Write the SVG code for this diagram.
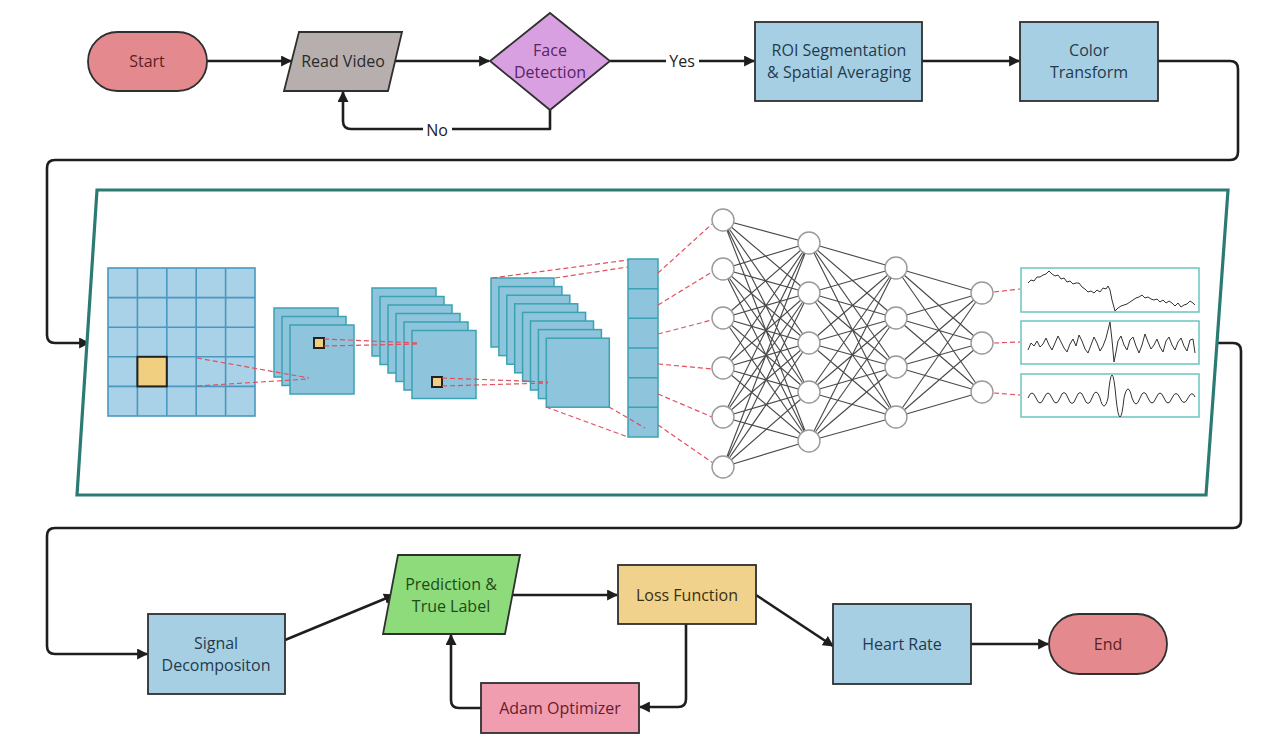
<svg xmlns="http://www.w3.org/2000/svg" width="1274" height="751" viewBox="0 0 1274 751">
<defs>
<marker id="ah" viewBox="0 0 10 10" refX="9" refY="5" markerWidth="11" markerHeight="11" markerUnits="userSpaceOnUse" orient="auto">
<path d="M0 0 L10 5 L0 10 Z" fill="#1e1e1e"/>
</marker>
<style>
.lbl{font-family:"Open Sans","Noto Sans","Liberation Sans",sans-serif;font-size:16px;text-anchor:middle;dominant-baseline:central}
.node{stroke:#2f2f2f;stroke-width:1.8}
.conn{fill:none;stroke:#1e1e1e;stroke-width:2.6;stroke-linejoin:round}
.grid{fill:#a9d1e7;stroke:#4a98bf;stroke-width:1.6}
.fm{fill:#8fc4dd;stroke:#3aa3b3;stroke-width:1.5}
.yel{fill:#f0d080;stroke:#222;stroke-width:2}
.dash{fill:none;stroke:#e0505e;stroke-width:1.2;stroke-dasharray:5 3}
.nn{fill:none;stroke:#4a4a4a;stroke-width:1.15}
.neu{fill:#fff;stroke:#9a9a9a;stroke-width:1.4}
.sig{fill:#fff;stroke:#6cc3c0;stroke-width:1.5}
.wave{fill:none;stroke:#333;stroke-width:1}
</style>
</defs>
<rect width="1274" height="751" fill="#fff"/>

<g id="connectors">
<path class="conn" d="M207 61 H291" marker-end="url(#ah)"/>
<path class="conn" d="M395 61 H489" marker-end="url(#ah)"/>
<path class="conn" d="M550 110 V129 H351 Q343 129 343 121 V92" marker-end="url(#ah)"/>
<path class="conn" d="M610 61 H754" marker-end="url(#ah)"/>
<path class="conn" d="M922 61 H1019" marker-end="url(#ah)"/>
<path class="conn" d="M1158 61 H1230 Q1238 61 1238 69 V152 Q1238 160 1230 160 H55 Q47 160 47 168 V335 Q47 343 55 343 H89" marker-end="url(#ah)"/>
<path class="conn" d="M1217 343 H1233 Q1241 343 1241 351 V520 Q1241 528 1233 528 H55 Q47 528 47 536 V646 Q47 654 55 654 H147" marker-end="url(#ah)"/>
<path class="conn" d="M285 640 L394 595" marker-end="url(#ah)"/>
<path class="conn" d="M512 595 H617" marker-end="url(#ah)"/>
<path class="conn" d="M756 595 L833 646" marker-end="url(#ah)"/>
<path class="conn" d="M970 644 H1048" marker-end="url(#ah)"/>
<path class="conn" d="M686 624 V699 Q686 707 678 707 H640" marker-end="url(#ah)"/>
<path class="conn" d="M481 708 H459 Q451 708 451 700 V635" marker-end="url(#ah)"/>
<rect x="666" y="50" width="33" height="22" fill="#fff"/>
<text class="lbl" x="682" y="61" fill="#222">Yes</text>
<rect x="423" y="120" width="29" height="20" fill="#fff"/>
<text class="lbl" x="437" y="130" fill="#222">No</text>
</g>

<g id="start">
<rect class="node" x="88" y="32" width="119" height="59" rx="29.5" fill="#e48a8f"/>
<text class="lbl" x="147" y="61" fill="#5b1f1f">Start</text>
</g>
<g id="read-video">
<polygon class="node" points="299,32 402,32 388,91 284,91" fill="#b7afad"/>
<text class="lbl" x="343" y="61" fill="#2a2a2a">Read Video</text>
</g>
<g id="face-detection">
<polygon class="node" points="550,13 610,61 550,110 490,61" fill="#d8a0e0"/>
<text class="lbl" x="550" y="50" fill="#5a2366">Face</text>
<text class="lbl" x="550" y="72" fill="#5a2366">Detection</text>
</g>
<g id="roi">
<rect class="node" x="755" y="22" width="167" height="79" fill="#a7cfe4"/>
<text class="lbl" x="839" y="50" fill="#1f3b4d">ROI Segmentation</text>
<text class="lbl" x="839" y="72" fill="#1f3b4d">&amp; Spatial Averaging</text>
</g>
<g id="color-transform">
<rect class="node" x="1020" y="22" width="138" height="79" fill="#a7cfe4"/>
<text class="lbl" x="1089" y="50" fill="#1f3b4d">Color</text>
<text class="lbl" x="1089" y="72" fill="#1f3b4d">Transform</text>
</g>

<g id="model-panel">
<polygon points="97,190 1228,190 1206,495 77,495" fill="#fff" stroke="#2b7a74" stroke-width="3.2"/>
<g id="input-grid">
<rect class="grid" x="108" y="268" width="147" height="148"/>
<path class="grid" fill="none" d="M137.4 268V416M166.8 268V416M196.2 268V416M225.6 268V416M108 297.6H255M108 327.2H255M108 356.8H255M108 386.4H255"/>
<rect class="yel" x="137.4" y="356.8" width="29.4" height="29.6"/>
</g>
<g id="feature-maps-1">
<rect class="fm" x="274" y="308" width="64" height="69"/>
<rect class="fm" x="282" y="316.5" width="64" height="69"/>
<rect class="fm" x="290" y="325" width="64" height="69"/>
<rect class="yel" x="314" y="338" width="10" height="10" stroke-width="1.6"/>
</g>
<path class="dash" d="M197 358 L309 378 M197 386 L309 379"/>
<g id="feature-maps-2">
<rect class="fm" x="372" y="288" width="64" height="68"/>
<rect class="fm" x="380" y="296.5" width="64" height="68"/>
<rect class="fm" x="388" y="305" width="64" height="68"/>
<rect class="fm" x="396" y="313.5" width="64" height="68"/>
<rect class="fm" x="404" y="322" width="64" height="68"/>
<rect class="fm" x="412" y="330.5" width="64" height="68"/>
<rect class="yel" x="432" y="377" width="10" height="10" stroke-width="1.6"/>
</g>
<path class="dash" d="M324 339 L418 343 M324 346 L418 344"/>
<g id="feature-maps-3">
<rect class="fm" x="491" y="278" width="63" height="69"/>
<rect class="fm" x="498.9" y="286.6" width="63" height="69"/>
<rect class="fm" x="506.8" y="295.2" width="63" height="69"/>
<rect class="fm" x="514.7" y="303.8" width="63" height="69"/>
<rect class="fm" x="522.6" y="312.4" width="63" height="69"/>
<rect class="fm" x="530.5" y="321" width="63" height="69"/>
<rect class="fm" x="538.4" y="329.6" width="63" height="69"/>
<rect class="fm" x="546.3" y="338.2" width="63" height="69"/>
</g>
<path class="dash" d="M442 378 L548 382 M442 386 L548 383"/>
<g id="flatten">
<rect class="fm" x="628" y="259" width="30" height="178"/>
<path class="fm" fill="none" d="M628 288.7H658M628 318.3H658M628 348H658M628 377.7H658M628 407.3H658"/>
</g>
<path class="dash" d="M492 278 L628 260 M555 278 L628 267 M546 407 L628 437 M609 407 L645 428"/>
<path class="dash" d="M658 273 L712 224 M658 305 L712 272 M658 334 L712 320 M658 364 L712 369 M658 394 L712 417 M658 425 L713 463"/>
<g id="dense-network">
<path class="nn" d="M723 220L809 243M723 220L809 293M723 220L809 343M723 220L809 392M723 220L809 441M723 269L809 243M723 269L809 293M723 269L809 343M723 269L809 392M723 269L809 441M723 318L809 243M723 318L809 293M723 318L809 343M723 318L809 392M723 318L809 441M723 368L809 243M723 368L809 293M723 368L809 343M723 368L809 392M723 368L809 441M723 417L809 243M723 417L809 293M723 417L809 343M723 417L809 392M723 417L809 441M723 467L809 243M723 467L809 293M723 467L809 343M723 467L809 392M723 467L809 441"/>
<path class="nn" d="M809 243L896 268M809 243L896 318M809 243L896 367M809 243L896 417M809 293L896 268M809 293L896 318M809 293L896 367M809 293L896 417M809 343L896 268M809 343L896 318M809 343L896 367M809 343L896 417M809 392L896 268M809 392L896 318M809 392L896 367M809 392L896 417M809 441L896 268M809 441L896 318M809 441L896 367M809 441L896 417"/>
<path class="nn" d="M896 268L982 293M896 268L982 343M896 268L982 392M896 318L982 293M896 318L982 343M896 318L982 392M896 367L982 293M896 367L982 343M896 367L982 392M896 417L982 293M896 417L982 343M896 417L982 392"/>
<circle class="neu" cx="723" cy="220" r="11"/><circle class="neu" cx="723" cy="269" r="11"/><circle class="neu" cx="723" cy="318" r="11"/><circle class="neu" cx="723" cy="368" r="11"/><circle class="neu" cx="723" cy="417" r="11"/><circle class="neu" cx="723" cy="467" r="11"/>
<circle class="neu" cx="809" cy="243" r="11"/><circle class="neu" cx="809" cy="293" r="11"/><circle class="neu" cx="809" cy="343" r="11"/><circle class="neu" cx="809" cy="392" r="11"/><circle class="neu" cx="809" cy="441" r="11"/>
<circle class="neu" cx="896" cy="268" r="11"/><circle class="neu" cx="896" cy="318" r="11"/><circle class="neu" cx="896" cy="367" r="11"/><circle class="neu" cx="896" cy="417" r="11"/>
<circle class="neu" cx="982" cy="293" r="11"/><circle class="neu" cx="982" cy="343" r="11"/><circle class="neu" cx="982" cy="392" r="11"/>
</g>
<path class="dash" d="M994 292 L1020 289 M994 343 L1020 342 M994 393 L1020 395"/>
<g id="signals">
<rect class="sig" x="1021" y="268" width="178" height="44"/>
<polyline class="wave" points="1028,283 1031,280 1034,281 1037,277 1040,277 1043,275 1046,274 1049,271 1052,274 1055,276 1058,275 1061,279 1064,278 1067,282 1070,281 1073,284 1076,283 1079,283 1082,287 1085,289 1088,292 1091,291 1094,293 1097,290 1100,292 1103,288 1106,289 1108,286 1110,290 1112,300 1115,311 1118,308 1121,306 1124,305 1127,304 1130,302 1133,300 1136,298 1139,297 1142,295 1145,298 1148,297 1151,299 1154,300 1157,299 1160,302 1163,300 1166,303 1169,301 1172,303 1175,306 1178,303 1181,307 1184,305 1187,304 1190,301 1193,303 1195,305"/>
<rect class="sig" x="1021" y="321" width="178" height="43"/>
<polyline class="wave" points="1028,350 1031,343 1034,346 1037,341 1040,347 1043,344 1046,338 1049,345 1052,350 1055,343 1058,336 1061,342 1064,348 1067,352 1070,344 1073,339 1076,346 1079,335 1082,341 1085,349 1088,353 1091,345 1094,337 1097,343 1100,351 1103,346 1106,338 1108,330 1110,322 1112,340 1114,362 1116,352 1118,341 1121,336 1124,345 1127,350 1130,340 1133,337 1136,346 1139,353 1142,345 1145,334 1148,342 1151,349 1154,345 1157,339 1160,347 1163,352 1166,341 1169,337 1172,345 1175,350 1178,342 1181,338 1184,346 1187,351 1190,340 1193,339 1195,353"/>
<rect class="sig" x="1021" y="374" width="178" height="43"/>
<path class="wave" stroke="#666" d="M1028 398 q4 -10 8 0 q4 10 8 0 q4 -10 8 0 q4 10 8 0 q4 -11 8 0 q4 11 8 0 q4 -11 8 0 q4 11 8 0 q4 -12 8 0 q4 16 8 0 q4 -46 8 0 q4 38 8 0 q4 -18 8 0 q4 12 8 0 q4 -11 8 0 q4 10 8 0 q4 -10 8 0 q4 10 8 0 q4 -9 8 0 q4 9 8 0 q4 -8 7 -1"/>
</g>
</g>

<g id="signal-decomposition">
<rect class="node" x="148" y="614" width="137" height="80" fill="#a7cfe4"/>
<text class="lbl" x="216" y="643" fill="#1f3b4d">Signal</text>
<text class="lbl" x="216" y="665" fill="#1f3b4d">Decompositon</text>
</g>
<g id="prediction">
<polygon class="node" points="398,555 520,555 505,634 383,634" fill="#8ddb7a"/>
<text class="lbl" x="451" y="584" fill="#1f4a17">Prediction &amp;</text>
<text class="lbl" x="451" y="606" fill="#1f4a17">True Label</text>
</g>
<g id="loss-function">
<rect class="node" x="618" y="565" width="138" height="59" fill="#f0d28c"/>
<text class="lbl" x="687" y="595" fill="#3b2f0f">Loss Function</text>
</g>
<g id="adam-optimizer">
<rect class="node" x="481" y="683" width="158" height="50" fill="#f09db0"/>
<text class="lbl" x="560" y="708" fill="#6b1a2a">Adam Optimizer</text>
</g>
<g id="heart-rate">
<rect class="node" x="833" y="604" width="138" height="80" fill="#a7cfe4"/>
<text class="lbl" x="902" y="644" fill="#1f3b4d">Heart Rate</text>
</g>
<g id="end">
<rect class="node" x="1049" y="614" width="118" height="60" rx="30" fill="#e48a8f"/>
<text class="lbl" x="1108" y="644" fill="#5b1f1f">End</text>
</g>
</svg>
